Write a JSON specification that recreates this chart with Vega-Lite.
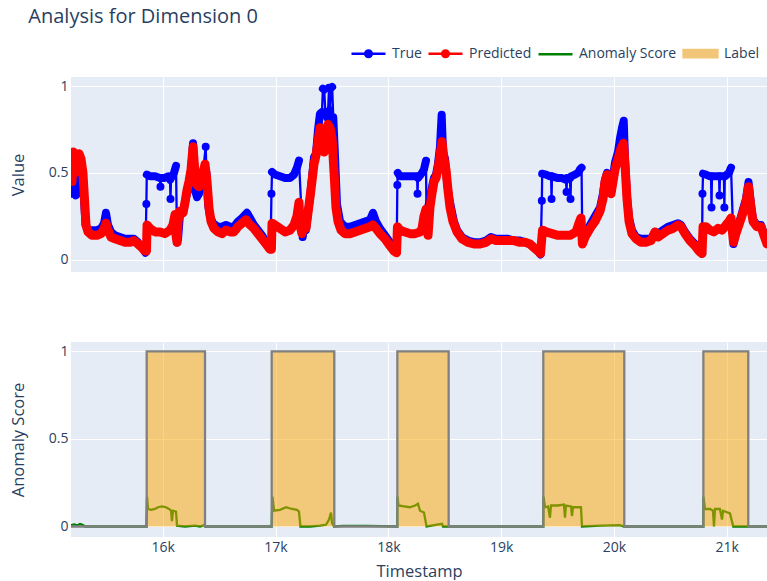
{
  "$schema": "https://vega.github.io/schema/vega-lite/v6.json",
  "background": "white",
  "padding": {"left": 10, "top": 7, "right": 0, "bottom": 0},
  "title": {"text": "Analysis for Dimension 0", "anchor": "start", "font": "Open Sans", "fontSize": 20, "fontWeight": "normal", "color": "#2a3f5f", "offset": 8, "dx": 18},
  "datasets": {
    "trueData": [
      {"t":15187,"v":0.43,"seg":1},{"t":15196,"v":0.38,"seg":1},{"t":15214,"v":0.42,"seg":1},{"t":15231,"v":0.37,"seg":1},{"t":15249,"v":0.45,"seg":1},{"t":15267,"v":0.55,"seg":1},{"t":15285,"v":0.52,"seg":1},{"t":15302,"v":0.35,"seg":1},{"t":15316,"v":0.20,"seg":1},{"t":15338,"v":0.17,"seg":1},{"t":15373,"v":0.17,"seg":1},{"t":15417,"v":0.17,"seg":1},{"t":15453,"v":0.18,"seg":1},{"t":15480,"v":0.21,"seg":1},{"t":15497,"v":0.27,"seg":1},{"t":15515,"v":0.20,"seg":1},{"t":15542,"v":0.16,"seg":1},{"t":15577,"v":0.14,"seg":1},{"t":15621,"v":0.13,"seg":1},{"t":15666,"v":0.12,"seg":1},{"t":15710,"v":0.12,"seg":1},{"t":15745,"v":0.12,"seg":1},{"t":15781,"v":0.10,"seg":1},{"t":15816,"v":0.07,"seg":1},{"t":15847,"v":0.04,"seg":1},
      {"t":15855,"v":0.32,"seg":2},
      {"t":15859,"v":0.49,"seg":3},{"t":15887,"v":0.48,"seg":3},{"t":15932,"v":0.48,"seg":3},{"t":15976,"v":0.47,"seg":3},
      {"t":15980,"v":0.42,"seg":4},
      {"t":15985,"v":0.47,"seg":5},{"t":16011,"v":0.47,"seg":5},{"t":16047,"v":0.48,"seg":5},{"t":16065,"v":0.46,"seg":5},
      {"t":16069,"v":0.35,"seg":6},
      {"t":16074,"v":0.47,"seg":7},{"t":16100,"v":0.50,"seg":7},{"t":16118,"v":0.54,"seg":7},
      {"t":16127,"v":0.10,"seg":8},{"t":16136,"v":0.12,"seg":8},{"t":16153,"v":0.26,"seg":8},{"t":16180,"v":0.27,"seg":8},{"t":16198,"v":0.33,"seg":8},{"t":16215,"v":0.38,"seg":8},{"t":16233,"v":0.42,"seg":8},{"t":16251,"v":0.50,"seg":8},{"t":16269,"v":0.67,"seg":8},{"t":16286,"v":0.40,"seg":8},{"t":16304,"v":0.36,"seg":8},{"t":16322,"v":0.38,"seg":8},{"t":16339,"v":0.45,"seg":8},{"t":16357,"v":0.50,"seg":8},
      {"t":16381,"v":0.65,"seg":9},
      {"t":16388,"v":0.50,"seg":10},{"t":16402,"v":0.32,"seg":10},{"t":16419,"v":0.25,"seg":10},{"t":16446,"v":0.21,"seg":10},{"t":16490,"v":0.19,"seg":10},{"t":16526,"v":0.19,"seg":10},{"t":16561,"v":0.20,"seg":10},{"t":16597,"v":0.19,"seg":10},{"t":16632,"v":0.19,"seg":10},{"t":16667,"v":0.22,"seg":10},{"t":16703,"v":0.24,"seg":10},{"t":16747,"v":0.27,"seg":10},{"t":16774,"v":0.24,"seg":10},{"t":16809,"v":0.20,"seg":10},{"t":16845,"v":0.17,"seg":10},{"t":16880,"v":0.14,"seg":10},{"t":16916,"v":0.10,"seg":10},{"t":16956,"v":0.06,"seg":10},
      {"t":16964,"v":0.38,"seg":11},
      {"t":16969,"v":0.505,"seg":12},{"t":16995,"v":0.49,"seg":12},{"t":17040,"v":0.48,"seg":12},{"t":17084,"v":0.47,"seg":12},{"t":17128,"v":0.47,"seg":12},{"t":17164,"v":0.49,"seg":12},{"t":17190,"v":0.53,"seg":12},{"t":17208,"v":0.57,"seg":12},
      {"t":17241,"v":0.13,"seg":13},{"t":17253,"v":0.20,"seg":13},{"t":17270,"v":0.17,"seg":13},{"t":17288,"v":0.27,"seg":13},{"t":17306,"v":0.36,"seg":13},{"t":17323,"v":0.47,"seg":13},{"t":17341,"v":0.59,"seg":13},{"t":17359,"v":0.61,"seg":13},{"t":17377,"v":0.75,"seg":13},{"t":17394,"v":0.84,"seg":13},{"t":17412,"v":0.85,"seg":13},
      {"t":17420,"v":0.985,"seg":37},{"t":17432,"v":0.98,"seg":37},
      {"t":17442,"v":0.84,"seg":38},{"t":17456,"v":0.82,"seg":38},{"t":17466,"v":0.85,"seg":38},
      {"t":17474,"v":0.99,"seg":39},
      {"t":17482,"v":0.86,"seg":40},
      {"t":17492,"v":0.99,"seg":41},{"t":17502,"v":0.995,"seg":41},
      {"t":17512,"v":0.82,"seg":42},{"t":17527,"v":0.60,"seg":42},{"t":17545,"v":0.32,"seg":42},{"t":17572,"v":0.22,"seg":42},{"t":17616,"v":0.19,"seg":42},{"t":17660,"v":0.19,"seg":42},{"t":17705,"v":0.20,"seg":42},{"t":17749,"v":0.21,"seg":42},{"t":17793,"v":0.22,"seg":42},{"t":17838,"v":0.23,"seg":42},{"t":17864,"v":0.27,"seg":42},{"t":17891,"v":0.22,"seg":42},{"t":17926,"v":0.18,"seg":42},{"t":17971,"v":0.14,"seg":42},{"t":18015,"v":0.10,"seg":42},{"t":18050,"v":0.06,"seg":42},{"t":18074,"v":0.044,"seg":42},
      {"t":18080,"v":0.43,"seg":14},
      {"t":18084,"v":0.50,"seg":15},{"t":18104,"v":0.48,"seg":15},{"t":18148,"v":0.48,"seg":15},{"t":18192,"v":0.48,"seg":15},{"t":18237,"v":0.48,"seg":15},{"t":18255,"v":0.48,"seg":15},
      {"t":18259,"v":0.38,"seg":16},
      {"t":18263,"v":0.47,"seg":17},{"t":18299,"v":0.50,"seg":17},{"t":18316,"v":0.52,"seg":17},{"t":18334,"v":0.57,"seg":17},
      {"t":18339,"v":0.20,"seg":18},{"t":18352,"v":0.30,"seg":18},{"t":18369,"v":0.35,"seg":18},{"t":18387,"v":0.42,"seg":18},{"t":18405,"v":0.47,"seg":18},{"t":18423,"v":0.49,"seg":18},{"t":18440,"v":0.55,"seg":18},{"t":18458,"v":0.65,"seg":18},{"t":18473,"v":0.835,"seg":18},{"t":18485,"v":0.62,"seg":18},{"t":18503,"v":0.58,"seg":18},{"t":18520,"v":0.45,"seg":18},{"t":18538,"v":0.36,"seg":18},{"t":18556,"v":0.30,"seg":18},{"t":18582,"v":0.22,"seg":18},{"t":18609,"v":0.17,"seg":18},{"t":18653,"v":0.13,"seg":18},{"t":18706,"v":0.11,"seg":18},{"t":18768,"v":0.10,"seg":18},{"t":18813,"v":0.10,"seg":18},{"t":18866,"v":0.11,"seg":18},{"t":18910,"v":0.13,"seg":18},{"t":18955,"v":0.12,"seg":18},{"t":19008,"v":0.12,"seg":18},{"t":19061,"v":0.12,"seg":18},{"t":19114,"v":0.11,"seg":18},{"t":19167,"v":0.11,"seg":18},{"t":19212,"v":0.10,"seg":18},{"t":19256,"v":0.09,"seg":18},{"t":19291,"v":0.07,"seg":18},{"t":19327,"v":0.05,"seg":18},{"t":19349,"v":0.03,"seg":18},
      {"t":19361,"v":0.34,"seg":19},
      {"t":19364,"v":0.495,"seg":20},{"t":19398,"v":0.49,"seg":20},{"t":19433,"v":0.48,"seg":20},{"t":19443,"v":0.48,"seg":20},
      {"t":19447,"v":0.35,"seg":21},
      {"t":19451,"v":0.48,"seg":22},{"t":19504,"v":0.47,"seg":22},{"t":19540,"v":0.47,"seg":22},{"t":19575,"v":0.46,"seg":22},
      {"t":19580,"v":0.39,"seg":23},
      {"t":19584,"v":0.47,"seg":24},{"t":19611,"v":0.47,"seg":24},
      {"t":19615,"v":0.35,"seg":25},
      {"t":19620,"v":0.48,"seg":26},{"t":19655,"v":0.49,"seg":26},{"t":19682,"v":0.50,"seg":26},{"t":19699,"v":0.52,"seg":26},{"t":19713,"v":0.53,"seg":26},
      {"t":19720,"v":0.10,"seg":27},{"t":19744,"v":0.14,"seg":27},{"t":19788,"v":0.20,"seg":27},{"t":19832,"v":0.25,"seg":27},{"t":19877,"v":0.30,"seg":27},{"t":19903,"v":0.38,"seg":27},{"t":19921,"v":0.46,"seg":27},{"t":19939,"v":0.50,"seg":27},{"t":19956,"v":0.48,"seg":27},{"t":19974,"v":0.40,"seg":27},{"t":19992,"v":0.48,"seg":27},{"t":20010,"v":0.56,"seg":27},{"t":20036,"v":0.62,"seg":27},{"t":20054,"v":0.70,"seg":27},{"t":20072,"v":0.76,"seg":27},{"t":20087,"v":0.80,"seg":27},{"t":20098,"v":0.58,"seg":27},{"t":20116,"v":0.36,"seg":27},{"t":20134,"v":0.24,"seg":27},{"t":20160,"v":0.17,"seg":27},{"t":20196,"v":0.13,"seg":27},{"t":20240,"v":0.12,"seg":27},{"t":20284,"v":0.12,"seg":27},{"t":20329,"v":0.12,"seg":27},{"t":20364,"v":0.16,"seg":27},{"t":20391,"v":0.15,"seg":27},{"t":20435,"v":0.17,"seg":27},{"t":20479,"v":0.19,"seg":27},{"t":20524,"v":0.20,"seg":27},{"t":20568,"v":0.21,"seg":27},{"t":20595,"v":0.20,"seg":27},{"t":20630,"v":0.16,"seg":27},{"t":20674,"v":0.12,"seg":27},{"t":20719,"v":0.09,"seg":27},{"t":20754,"v":0.06,"seg":27},{"t":20781,"v":0.035,"seg":27},
      {"t":20785,"v":0.38,"seg":28},
      {"t":20790,"v":0.495,"seg":29},{"t":20816,"v":0.49,"seg":29},{"t":20852,"v":0.48,"seg":29},{"t":20861,"v":0.48,"seg":29},
      {"t":20865,"v":0.30,"seg":30},
      {"t":20869,"v":0.48,"seg":31},{"t":20914,"v":0.48,"seg":31},{"t":20932,"v":0.48,"seg":31},
      {"t":20936,"v":0.37,"seg":32},
      {"t":20940,"v":0.48,"seg":33},{"t":20975,"v":0.48,"seg":33},
      {"t":20979,"v":0.30,"seg":34},
      {"t":20983,"v":0.48,"seg":35},{"t":21020,"v":0.50,"seg":35},{"t":21038,"v":0.53,"seg":35},
      {"t":21060,"v":0.09,"seg":36},{"t":21082,"v":0.16,"seg":36},{"t":21118,"v":0.23,"seg":36},{"t":21144,"v":0.29,"seg":36},{"t":21171,"v":0.35,"seg":36},{"t":21193,"v":0.447,"seg":36},{"t":21215,"v":0.32,"seg":36},{"t":21233,"v":0.23,"seg":36},{"t":21268,"v":0.20,"seg":36},{"t":21304,"v":0.20,"seg":36},{"t":21330,"v":0.15,"seg":36},{"t":21357,"v":0.10,"seg":36}
    ],
    "predData": [
      {"t":15187,"v":0.58},{"t":15196,"v":0.45},{"t":15205,"v":0.62},{"t":15222,"v":0.50},{"t":15240,"v":0.60},{"t":15258,"v":0.61},{"t":15276,"v":0.58},{"t":15293,"v":0.50},{"t":15311,"v":0.30},{"t":15320,"v":0.20},{"t":15338,"v":0.16},{"t":15373,"v":0.14},{"t":15417,"v":0.14},{"t":15453,"v":0.15},{"t":15480,"v":0.18},{"t":15497,"v":0.21},{"t":15515,"v":0.17},{"t":15542,"v":0.13},{"t":15577,"v":0.12},{"t":15621,"v":0.11},{"t":15666,"v":0.10},{"t":15710,"v":0.10},{"t":15745,"v":0.11},{"t":15781,"v":0.09},{"t":15816,"v":0.07},{"t":15843,"v":0.05},{"t":15856,"v":0.05},{"t":15861,"v":0.20},{"t":15887,"v":0.18},{"t":15932,"v":0.16},{"t":15976,"v":0.16},{"t":16020,"v":0.15},{"t":16065,"v":0.17},{"t":16091,"v":0.20},{"t":16109,"v":0.26},{"t":16118,"v":0.14},{"t":16127,"v":0.10},{"t":16136,"v":0.22},{"t":16153,"v":0.28},{"t":16180,"v":0.27},{"t":16198,"v":0.33},{"t":16215,"v":0.40},{"t":16233,"v":0.45},{"t":16251,"v":0.52},{"t":16269,"v":0.65},{"t":16286,"v":0.50},{"t":16304,"v":0.43},{"t":16322,"v":0.42},{"t":16339,"v":0.45},{"t":16357,"v":0.50},{"t":16375,"v":0.55},{"t":16393,"v":0.45},{"t":16410,"v":0.30},{"t":16428,"v":0.22},{"t":16455,"v":0.18},{"t":16490,"v":0.16},{"t":16526,"v":0.15},{"t":16561,"v":0.17},{"t":16597,"v":0.16},{"t":16632,"v":0.16},{"t":16667,"v":0.19},{"t":16703,"v":0.21},{"t":16738,"v":0.23},{"t":16774,"v":0.20},{"t":16809,"v":0.18},{"t":16845,"v":0.15},{"t":16880,"v":0.12},{"t":16916,"v":0.09},{"t":16951,"v":0.06},{"t":16964,"v":0.06},{"t":16969,"v":0.21},{"t":16995,"v":0.20},{"t":17040,"v":0.18},{"t":17084,"v":0.16},{"t":17128,"v":0.17},{"t":17164,"v":0.20},{"t":17190,"v":0.25},{"t":17208,"v":0.33},{"t":17217,"v":0.20},{"t":17235,"v":0.15},{"t":17253,"v":0.22},{"t":17270,"v":0.18},{"t":17288,"v":0.27},{"t":17306,"v":0.36},{"t":17323,"v":0.45},{"t":17341,"v":0.55},{"t":17359,"v":0.60},{"t":17377,"v":0.68},{"t":17394,"v":0.76},{"t":17412,"v":0.75},{"t":17430,"v":0.62},{"t":17448,"v":0.70},{"t":17465,"v":0.78},{"t":17483,"v":0.76},{"t":17501,"v":0.70},{"t":17519,"v":0.50},{"t":17536,"v":0.30},{"t":17554,"v":0.22},{"t":17581,"v":0.17},{"t":17616,"v":0.15},{"t":17660,"v":0.15},{"t":17705,"v":0.16},{"t":17749,"v":0.17},{"t":17793,"v":0.18},{"t":17838,"v":0.19},{"t":17864,"v":0.20},{"t":17891,"v":0.18},{"t":17926,"v":0.15},{"t":17971,"v":0.12},{"t":18015,"v":0.08},{"t":18050,"v":0.05},{"t":18073,"v":0.04},{"t":18081,"v":0.19},{"t":18104,"v":0.17},{"t":18148,"v":0.16},{"t":18192,"v":0.15},{"t":18237,"v":0.15},{"t":18281,"v":0.16},{"t":18299,"v":0.18},{"t":18316,"v":0.25},{"t":18334,"v":0.29},{"t":18352,"v":0.14},{"t":18369,"v":0.30},{"t":18387,"v":0.38},{"t":18405,"v":0.45},{"t":18423,"v":0.47},{"t":18440,"v":0.52},{"t":18458,"v":0.60},{"t":18476,"v":0.68},{"t":18494,"v":0.58},{"t":18511,"v":0.52},{"t":18529,"v":0.40},{"t":18547,"v":0.30},{"t":18573,"v":0.22},{"t":18609,"v":0.16},{"t":18653,"v":0.12},{"t":18706,"v":0.10},{"t":18768,"v":0.09},{"t":18813,"v":0.09},{"t":18866,"v":0.10},{"t":18910,"v":0.12},{"t":18955,"v":0.11},{"t":19008,"v":0.11},{"t":19061,"v":0.11},{"t":19114,"v":0.11},{"t":19167,"v":0.10},{"t":19212,"v":0.10},{"t":19256,"v":0.09},{"t":19291,"v":0.07},{"t":19327,"v":0.05},{"t":19349,"v":0.035},{"t":19367,"v":0.17},{"t":19398,"v":0.16},{"t":19451,"v":0.15},{"t":19504,"v":0.14},{"t":19557,"v":0.14},{"t":19611,"v":0.14},{"t":19664,"v":0.16},{"t":19690,"v":0.21},{"t":19708,"v":0.24},{"t":19721,"v":0.09},{"t":19744,"v":0.13},{"t":19788,"v":0.18},{"t":19832,"v":0.22},{"t":19877,"v":0.28},{"t":19903,"v":0.35},{"t":19921,"v":0.45},{"t":19939,"v":0.49},{"t":19956,"v":0.45},{"t":19974,"v":0.38},{"t":19992,"v":0.45},{"t":20010,"v":0.52},{"t":20036,"v":0.58},{"t":20063,"v":0.64},{"t":20085,"v":0.67},{"t":20098,"v":0.55},{"t":20116,"v":0.35},{"t":20134,"v":0.22},{"t":20160,"v":0.15},{"t":20196,"v":0.12},{"t":20240,"v":0.10},{"t":20284,"v":0.10},{"t":20329,"v":0.11},{"t":20364,"v":0.16},{"t":20391,"v":0.13},{"t":20435,"v":0.15},{"t":20479,"v":0.17},{"t":20524,"v":0.18},{"t":20568,"v":0.20},{"t":20595,"v":0.19},{"t":20630,"v":0.15},{"t":20674,"v":0.11},{"t":20719,"v":0.08},{"t":20754,"v":0.05},{"t":20781,"v":0.035},{"t":20790,"v":0.19},{"t":20816,"v":0.19},{"t":20852,"v":0.17},{"t":20887,"v":0.16},{"t":20923,"v":0.18},{"t":20958,"v":0.17},{"t":20994,"v":0.20},{"t":21020,"v":0.22},{"t":21038,"v":0.24},{"t":21060,"v":0.10},{"t":21082,"v":0.15},{"t":21118,"v":0.22},{"t":21144,"v":0.27},{"t":21171,"v":0.33},{"t":21193,"v":0.42},{"t":21215,"v":0.30},{"t":21233,"v":0.22},{"t":21268,"v":0.19},{"t":21304,"v":0.19},{"t":21330,"v":0.14},{"t":21357,"v":0.09}
    ],
    "scoreData": [
      {"t":15187,"score":0.008},{"t":15214,"score":0.012},{"t":15240,"score":0.006},{"t":15267,"score":0.014},{"t":15293,"score":0.008},{"t":15311,"score":0},{"t":15856,"score":0},{"t":15861,"score":0.17},{"t":15870,"score":0.10},{"t":15896,"score":0.095},{"t":15932,"score":0.10},{"t":15958,"score":0.11},{"t":15994,"score":0.115},{"t":16029,"score":0.11},{"t":16056,"score":0.10},{"t":16074,"score":0.09},{"t":16082,"score":0.03},{"t":16091,"score":0.09},{"t":16118,"score":0.085},{"t":16127,"score":0.005},{"t":16198,"score":0},{"t":16286,"score":0.005},{"t":16331,"score":0},{"t":16366,"score":0.008},{"t":16380,"score":0},{"t":16966,"score":0},{"t":16973,"score":0.17},{"t":16987,"score":0.09},{"t":17040,"score":0.095},{"t":17093,"score":0.11},{"t":17146,"score":0.10},{"t":17190,"score":0.095},{"t":17208,"score":0.085},{"t":17221,"score":0},{"t":17306,"score":0},{"t":17394,"score":0.005},{"t":17448,"score":0.01},{"t":17474,"score":0.04},{"t":17492,"score":0.08},{"t":17501,"score":0.02},{"t":17519,"score":0},{"t":17600,"score":0.004},{"t":17800,"score":0.003},{"t":18080,"score":0},{"t":18081,"score":0.17},{"t":18090,"score":0.12},{"t":18139,"score":0.115},{"t":18192,"score":0.11},{"t":18237,"score":0.12},{"t":18263,"score":0.13},{"t":18281,"score":0.09},{"t":18316,"score":0.08},{"t":18339,"score":0},{"t":18476,"score":0.015},{"t":18485,"score":0},{"t":19374,"score":0},{"t":19376,"score":0.17},{"t":19389,"score":0.11},{"t":19416,"score":0.115},{"t":19433,"score":0.05},{"t":19442,"score":0.12},{"t":19504,"score":0.12},{"t":19557,"score":0.125},{"t":19566,"score":0.05},{"t":19575,"score":0.12},{"t":19620,"score":0.115},{"t":19628,"score":0.06},{"t":19637,"score":0.11},{"t":19708,"score":0.11},{"t":19717,"score":0},{"t":19877,"score":0.005},{"t":20054,"score":0.008},{"t":20090,"score":0},{"t":20793,"score":0},{"t":20794,"score":0.17},{"t":20807,"score":0.10},{"t":20852,"score":0.10},{"t":20878,"score":0.09},{"t":20887,"score":0},{"t":20896,"score":0.10},{"t":20940,"score":0.10},{"t":20958,"score":0.04},{"t":20967,"score":0.09},{"t":21029,"score":0.075},{"t":21058,"score":0},{"t":21357,"score":0}
    ],
    "labelData": [
      {"t":15187,"label":0},{"t":15858,"label":1},{"t":16375,"label":0},{"t":16966,"label":1},{"t":17521,"label":0},{"t":18080,"label":1},{"t":18535,"label":0},{"t":19374,"label":1},{"t":20092,"label":0},{"t":20793,"label":1},{"t":21191,"label":0},{"t":21357,"label":0}
    ]
  },
  "spacing": 70,
  "resolve": {"scale": {"color": "independent"}, "legend": {"color": "independent"}},
  "vconcat": [
    {
      "width": 696,
      "height": 195,
      "encoding": {
        "x": {"field": "t", "type": "quantitative", "scale": {"domain": [15187, 21357], "nice": false, "zero": false}, "axis": {"values": [16000, 17000, 18000, 19000, 20000, 21000], "labels": false, "title": null, "grid": true}},
        "y": {"field": "v", "type": "quantitative", "scale": {"domain": [-0.071, 1.052], "nice": false, "zero": false}, "axis": {"values": [0, 0.5, 1], "format": "~g", "title": "Value"}}
      },
      "layer": [
        {
          "data": {"name": "trueData"},
          "mark": {"type": "line", "strokeWidth": 8, "strokeCap": "round", "strokeJoin": "round", "clip": true},
          "encoding": {
            "detail": {"field": "seg", "type": "nominal"},
            "color": {
              "datum": "True",
              "scale": {"domain": ["True", "Predicted", "Anomaly Score", "Label"], "range": ["blue", "red", "green", "#f2c679"]},
              "legend": {
                "orient": "none", "legendX": 279, "legendY": -42, "direction": "horizontal", "columns": 4, "title": null,
                "symbolSize": 1156, "symbolStrokeWidth": 2.3, "labelFont": "Open Sans", "labelFontSize": 14, "labelColor": "#2a3f5f", "labelOffset": 5, "columnPadding": 1,
                "encode": {
                  "symbols": {
                    "update": {
                      "shape": {"signal": "datum.value === 'Label' ? 'M-1,-0.22H1V0.22H-1Z' : datum.value === 'Anomaly Score' ? 'M-1,0H1' : 'M-1,0H1M-0.2,0A0.2,0.2,0,1,0,0.2,0A0.2,0.2,0,1,0,-0.2,0Z'"},
                      "fill": {"signal": "datum.value === 'True' ? 'blue' : datum.value === 'Predicted' ? 'red' : datum.value === 'Label' ? '#f2c679' : 'transparent'"},
                      "stroke": {"signal": "datum.value === 'True' ? 'blue' : datum.value === 'Predicted' ? 'red' : datum.value === 'Anomaly Score' ? 'green' : '#808080'"},
                      "strokeWidth": {"value": 2.3},
                      "opacity": {"value": 1},
                      "fillOpacity": {"value": 1},
                      "strokeOpacity": {"value": 1}
                    }
                  }
                }
              }
            }
          }
        },
        {
          "data": {"name": "trueData"},
          "mark": {"type": "line", "strokeWidth": 2.3, "clip": true},
          "encoding": {"color": {"datum": "True"}}
        },
        {
          "data": {"name": "trueData"},
          "mark": {"type": "point", "filled": true, "size": 40, "opacity": 1, "clip": true},
          "encoding": {"color": {"datum": "True"}}
        },
        {
          "data": {"name": "predData"},
          "mark": {"type": "line", "strokeWidth": 9, "strokeCap": "round", "strokeJoin": "round", "clip": true},
          "encoding": {"color": {"datum": "Predicted"}}
        },
        {
          "data": {"name": "predData"},
          "mark": {"type": "point", "filled": true, "size": 45, "opacity": 1, "clip": true},
          "encoding": {"color": {"datum": "Predicted"}}
        }
      ]
    },
    {
      "width": 696,
      "height": 195,
      "encoding": {
        "x": {"field": "t", "type": "quantitative", "scale": {"domain": [15187, 21357], "nice": false, "zero": false}, "axis": {"values": [16000, 17000, 18000, 19000, 20000, 21000], "format": "~s", "title": "Timestamp", "grid": true}}
      },
      "layer": [
        {
          "data": {"name": "scoreData"},
          "mark": {"type": "line", "stroke": "green", "strokeWidth": 2.3, "clip": true},
          "encoding": {
            "y": {"field": "score", "type": "quantitative", "scale": {"domain": [-0.06, 1.054], "nice": false, "zero": false}, "axis": {"values": [0, 0.5, 1], "format": "~g", "title": "Anomaly Score"}}
          }
        },
        {
          "data": {"name": "labelData"},
          "mark": {"type": "area", "interpolate": "step-after", "fill": "orange", "fillOpacity": 0.5, "clip": true},
          "encoding": {
            "y": {"field": "label", "type": "quantitative", "axis": {"values": [0, 0.5, 1], "format": "~g", "title": "Anomaly Score"}}
          }
        },
        {
          "data": {"name": "labelData"},
          "mark": {"type": "line", "interpolate": "step-after", "stroke": "#808080", "strokeWidth": 2.3, "clip": true},
          "encoding": {
            "y": {"field": "label", "type": "quantitative", "axis": {"values": [0, 0.5, 1], "format": "~g", "title": "Anomaly Score"}}
          }
        }
      ]
    }
  ],
  "config": {
    "font": "Open Sans",
    "view": {"fill": "#E5ECF6", "stroke": null},
    "axis": {"domain": false, "ticks": false, "gridColor": "white", "gridWidth": 1, "labelFont": "Open Sans", "labelFontSize": 14, "labelColor": "#2a3f5f", "labelPadding": 3, "titleFont": "Open Sans", "titleFontSize": 16.5, "titleFontWeight": "normal", "titleColor": "#2a3f5f"},
    "axisY": {"titlePadding": 22},
    "axisX": {"titlePadding": 9, "labelPadding": 3}
  }
}
